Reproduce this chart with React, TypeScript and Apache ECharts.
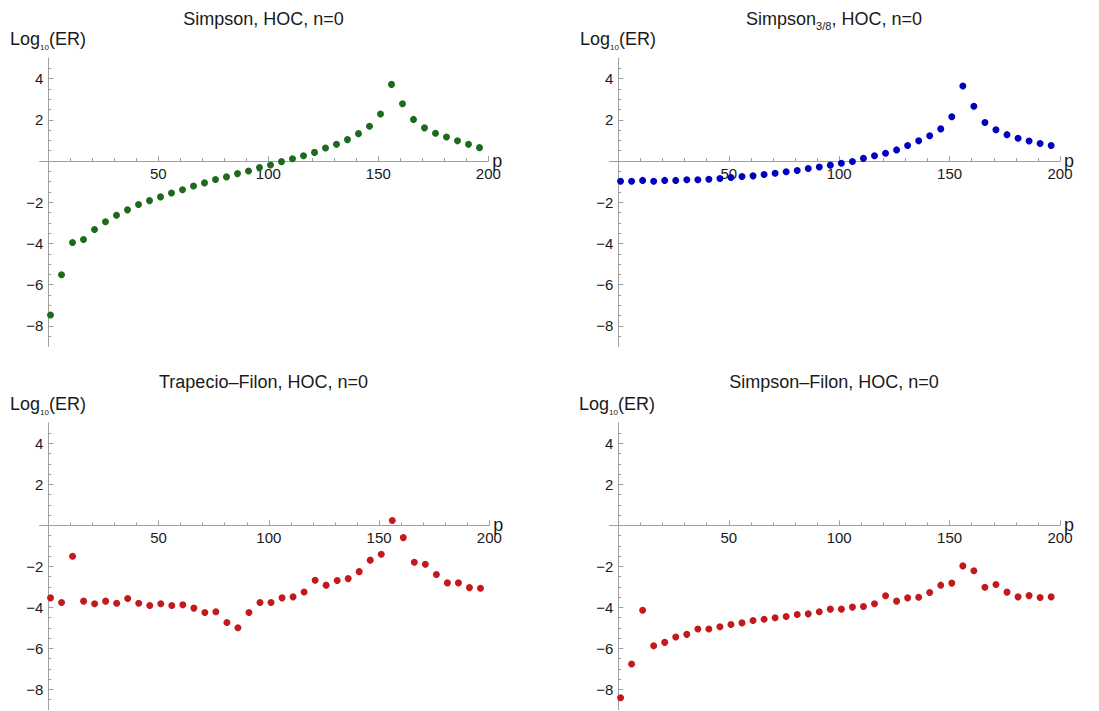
import React, { useEffect, useRef } from "react";
import * as echarts from "echarts";

// ---------- data ----------
const P = [1, 6, 11, 16, 21, 26, 31, 36, 41, 46, 51, 56, 61, 66, 71, 76, 81, 86, 91, 96,
  101, 106, 111, 116, 121, 126, 131, 136, 141, 146, 151, 156, 161, 166, 171, 176, 181, 186, 191, 196];

const simpson = [-7.47, -5.52, -3.95, -3.81, -3.32, -2.95, -2.63, -2.37, -2.11, -1.92,
  -1.74, -1.55, -1.39, -1.21, -1.06, -0.9, -0.77, -0.61, -0.48, -0.31,
  -0.19, -0.03, 0.11, 0.26, 0.42, 0.63, 0.81, 1.04, 1.33, 1.69,
  2.28, 3.72, 2.78, 2.02, 1.61, 1.35, 1.17, 0.98, 0.81, 0.65];

const simpson38 = [-0.98, -0.98, -0.94, -0.98, -0.94, -0.94, -0.91, -0.91, -0.88, -0.85,
  -0.8, -0.75, -0.72, -0.65, -0.59, -0.52, -0.46, -0.36, -0.29, -0.2,
  -0.11, -0.02, 0.13, 0.26, 0.38, 0.54, 0.75, 0.98, 1.23, 1.56,
  2.15, 3.64, 2.66, 1.87, 1.52, 1.28, 1.11, 0.97, 0.85, 0.75];

const trapecioFilon = [-3.54, -3.77, -1.51, -3.7, -3.83, -3.7, -3.8, -3.57, -3.8, -3.91,
  -3.83, -3.91, -3.88, -4.04, -4.25, -4.22, -4.74, -5.0, -4.25, -3.77,
  -3.77, -3.54, -3.49, -3.25, -2.68, -2.92, -2.69, -2.6, -2.26, -1.7,
  -1.41, 0.23, -0.6, -1.8, -1.9, -2.4, -2.81, -2.81, -3.04, -3.07];

const simpsonFilon = [-8.41, -6.77, -4.14, -5.88, -5.71, -5.45, -5.32, -5.06, -5.06, -4.95,
  -4.84, -4.76, -4.64, -4.58, -4.51, -4.45, -4.35, -4.32, -4.22, -4.09,
  -4.09, -3.99, -3.96, -3.83, -3.44, -3.7, -3.54, -3.51, -3.28, -2.92,
  -2.82, -1.98, -2.22, -3.02, -2.89, -3.26, -3.49, -3.43, -3.52, -3.49];

const X_MAJOR = [50, 100, 150, 200];
const X_MINOR = [10, 20, 30, 40, 50, 60, 70, 80, 90, 100, 110, 120, 130, 140, 150, 160, 170, 180, 190, 200];
const Y_MAJOR = [-8, -6, -4, -2, 2, 4];
const Y_MINOR = [-8.5, -8, -7.5, -7, -6.5, -6, -5.5, -5, -4.5, -4, -3.5, -3, -2.5, -2, -1.5, -1, -0.5,
  0.5, 1, 1.5, 2, 2.5, 3, 3.5, 4, 4.5];

const X_MIN = -4;
const X_MAX = 200;
const Y_MIN = -9;
const Y_MAX = 5;

// ---------- layout / style ----------
const FONT = "'Liberation Sans', Arial, Helvetica, sans-serif";
const AXIS = "#a0a0a0";
const TXT = "#1a1a1a";

const panels = [
  { title: ["Simpson", "", ", HOC, n=0"], data: simpson, color: "#1d6a1d",
    grid: { left: 39.5, top: 58, width: 448.8, height: 288.5 }, tx: 263.5, ty: 19, lx: 10, ly: 39 },
  { title: ["Simpson", "3/8", ", HOC, n=0"], data: simpson38, color: "#0000bf",
    grid: { left: 609.5, top: 58, width: 450.5, height: 288.5 }, tx: 834, ty: 19, lx: 580, ly: 39 },
  { title: ["Trapecio\u2013Filon", "", ", HOC, n=0"], data: trapecioFilon, color: "#c4191c",
    grid: { left: 39.5, top: 422.8, width: 449.8, height: 287 }, tx: 263.5, ty: 381.5, lx: 10, ly: 404 },
  { title: ["Simpson\u2013Filon", "", ", HOC, n=0"], data: simpsonFilon, color: "#c4191c",
    grid: { left: 609.5, top: 422.8, width: 450.5, height: 287 }, tx: 834, ty: 381.5, lx: 579, ly: 404 },
];

const fmt = (v: number) => (v < 0 ? "\u2212" + Math.abs(v) : String(v));

function buildOption() {
  const grid: any[] = [];
  const xAxis: any[] = [];
  const yAxis: any[] = [];
  const series: any[] = [];
  const graphic: any[] = [];

  panels.forEach((pn, i) => {
    grid.push({ ...pn.grid, containLabel: false });
    const xi0 = 2 * i;
    const yi0 = 2 * i;
    // distance from grid bottom to the y=0 line, and from grid left to the x=0 line
    const xZeroOffset = -pn.grid.height * (0 - Y_MIN) / (Y_MAX - Y_MIN);
    const yZeroOffset = -pn.grid.width * (0 - X_MIN) / (X_MAX - X_MIN);
    // minor x axis (the visible axis line, on zero)
    xAxis.push({
      gridIndex: i, type: "value", min: X_MIN, max: X_MAX, position: "bottom",
      axisLine: { show: true, onZero: true, onZeroAxisIndex: yi0, lineStyle: { color: AXIS, width: 1 } },
      axisTick: { show: true, inside: true, length: 3, customValues: X_MINOR, lineStyle: { color: AXIS } },
      axisLabel: { show: false },
      splitLine: { show: false },
    });
    // major x axis with labels, shifted up to the zero line
    xAxis.push({
      gridIndex: i, type: "value", min: X_MIN, max: X_MAX, position: "bottom",
      offset: xZeroOffset,
      axisLine: { show: false, onZero: false },
      axisTick: { show: true, inside: true, length: 5, customValues: X_MAJOR, lineStyle: { color: AXIS } },
      axisLabel: { show: true, customValues: X_MAJOR, margin: 5, fontSize: 15, color: TXT, fontFamily: FONT, formatter: fmt },
      splitLine: { show: false },
      name: "p", nameLocation: "end", nameGap: 4, nameMoveOverlap: false,
      nameTextStyle: { fontSize: 18, color: TXT, fontFamily: FONT, align: "left", verticalAlign: "middle", padding: [6, 0, 0, 0] },
    });
    // minor y axis (visible axis line, on zero)
    yAxis.push({
      gridIndex: i, type: "value", min: Y_MIN, max: Y_MAX, position: "left",
      axisLine: { show: true, onZero: true, onZeroAxisIndex: xi0, lineStyle: { color: AXIS, width: 1 } },
      axisTick: { show: true, inside: true, length: 3, customValues: Y_MINOR, lineStyle: { color: AXIS } },
      axisLabel: { show: false },
      splitLine: { show: false },
    });
    // major y axis with labels, shifted right to the zero line
    yAxis.push({
      gridIndex: i, type: "value", min: Y_MIN, max: Y_MAX, position: "left",
      offset: yZeroOffset,
      axisLine: { show: false, onZero: false },
      axisTick: { show: true, inside: true, length: 5, customValues: Y_MAJOR, lineStyle: { color: AXIS } },
      axisLabel: { show: true, customValues: Y_MAJOR, margin: 5, fontSize: 15, color: TXT, fontFamily: FONT, formatter: fmt },
      splitLine: { show: false },
    });

    series.push({
      type: "scatter",
      xAxisIndex: xi0,
      yAxisIndex: yi0,
      symbol: "circle",
      symbolSize: 7,
      itemStyle: { color: pn.color, opacity: 1 },
      data: P.map((p, k) => [p, pn.data[k]]),
      z: 5,
    });

    const [a, sub, b] = pn.title;
    const titleText = sub ? `{t|${a}}{s|${sub}}{t|${b}}` : `{t|${a}${b}}`;
    graphic.push({
      type: "text",
      x: pn.tx,
      y: pn.ty,
      style: {
        text: titleText,
        align: "center",
        verticalAlign: "middle",
        rich: {
          t: { fontSize: 18, fontFamily: FONT, fill: TXT, color: TXT, lineHeight: 24 },
          s: { fontSize: 11, fontFamily: FONT, fill: TXT, color: TXT, lineHeight: 10, verticalAlign: "bottom" },
        },
      },
    });
    graphic.push({
      type: "text",
      x: pn.lx,
      y: pn.ly,
      style: {
        text: "{t|Log}{s|10}{t|(ER)}",
        align: "left",
        verticalAlign: "middle",
        rich: {
          t: { fontSize: 18, fontFamily: FONT, fill: TXT, color: TXT, lineHeight: 24 },
          s: { fontSize: 8, fontFamily: FONT, fill: TXT, color: TXT, lineHeight: 9, verticalAlign: "bottom" },
        },
      },
    });
  });

  return { animation: false, backgroundColor: "#ffffff", grid, xAxis, yAxis, series, graphic };
}

export default function App() {
  const ref = useRef<HTMLDivElement>(null);
  useEffect(() => {
    if (!ref.current) return;
    const chart = echarts.init(ref.current, undefined, { renderer: "svg" });
    chart.setOption(buildOption() as any);
    return () => chart.dispose();
  }, []);
  return (
    <div
      ref={ref}
      style={{ position: "absolute", left: 0, top: 0, width: 1099, height: 711, background: "#fff" }}
    />
  );
}
